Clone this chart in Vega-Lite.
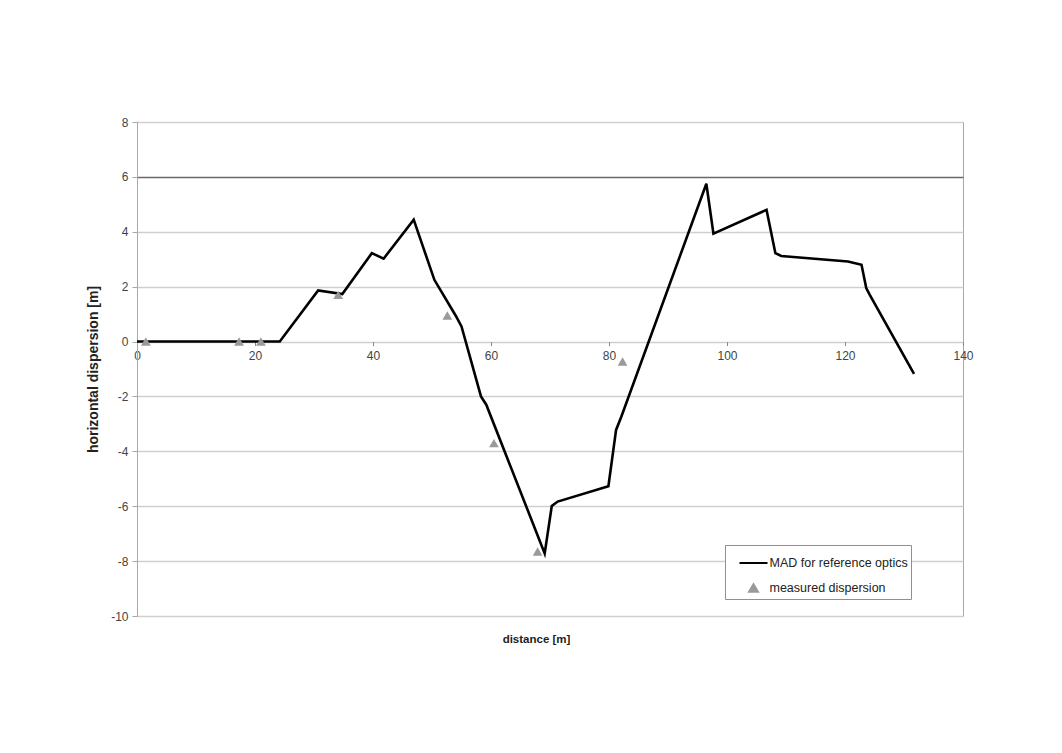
{
  "$schema": "https://vega.github.io/schema/vega-lite/v6.json",
  "width": 826,
  "height": 494,
  "autosize": "none",
  "padding": {"left": 137, "top": 122, "right": 99, "bottom": 137},
  "background": "#ffffff",
  "config": {
    "font": "Liberation Sans",
    "view": {"stroke": "#a8a8a8", "strokeWidth": 1}
  },
  "datasets": {
    "mad": [
      {"distance": 0, "dispersion": 0},
      {"distance": 24.2, "dispersion": 0},
      {"distance": 30.7, "dispersion": 1.86},
      {"distance": 34.8, "dispersion": 1.73},
      {"distance": 39.8, "dispersion": 3.22},
      {"distance": 41.8, "dispersion": 3.02},
      {"distance": 46.9, "dispersion": 4.44},
      {"distance": 50.4, "dispersion": 2.25},
      {"distance": 54.0, "dispersion": 0.95},
      {"distance": 55.0, "dispersion": 0.55},
      {"distance": 58.3, "dispersion": -2.0},
      {"distance": 59.2, "dispersion": -2.3},
      {"distance": 69.1, "dispersion": -7.72},
      {"distance": 70.3, "dispersion": -5.99},
      {"distance": 71.3, "dispersion": -5.83},
      {"distance": 79.9, "dispersion": -5.27},
      {"distance": 81.2, "dispersion": -3.22},
      {"distance": 82.1, "dispersion": -2.73},
      {"distance": 96.5, "dispersion": 5.75},
      {"distance": 97.7, "dispersion": 3.93},
      {"distance": 106.7, "dispersion": 4.8},
      {"distance": 108.2, "dispersion": 3.22},
      {"distance": 109.2, "dispersion": 3.12},
      {"distance": 120.5, "dispersion": 2.92},
      {"distance": 122.8, "dispersion": 2.8},
      {"distance": 123.6, "dispersion": 1.95},
      {"distance": 124.2, "dispersion": 1.7},
      {"distance": 131.7, "dispersion": -1.18}
    ],
    "measured": [
      {"distance": 1.5, "dispersion": 0},
      {"distance": 17.3, "dispersion": 0},
      {"distance": 21.0, "dispersion": 0},
      {"distance": 34.1, "dispersion": 1.7},
      {"distance": 52.6, "dispersion": 0.95},
      {"distance": 60.5, "dispersion": -3.7},
      {"distance": 67.9, "dispersion": -7.65},
      {"distance": 82.3, "dispersion": -0.73}
    ]
  },
  "encoding": {
    "x": {
      "field": "distance",
      "type": "quantitative",
      "scale": {"domain": [0, 140], "nice": false, "zero": false},
      "axis": {
        "title": "distance [m]",
        "titleFontSize": 11.5,
        "titleFontWeight": "bold",
        "titleColor": "#222222",
        "titleX": 399,
        "titleY": 298,
        "titleBaseline": "middle",
        "values": [0, 20, 40, 60, 80, 100, 120, 140],
        "offset": -274.4,
        "grid": false,
        "domain": false,
        "tickColor": "#888888",
        "tickSize": 4,
        "labelFontSize": 12,
        "labelColor": "#444444",
        "labelPadding": 5,
        "labelFlush": false,
        "labelBound": false
      }
    },
    "y": {
      "field": "dispersion",
      "type": "quantitative",
      "scale": {"domain": [-10, 8], "nice": false, "zero": false},
      "axis": {
        "title": "horizontal dispersion [m]",
        "titleFontSize": 14,
        "titleFontWeight": "bold",
        "titleColor": "#222222",
        "titleX": -44,
        "titleBaseline": "middle",
        "values": [-10, -8, -6, -4, -2, 0, 2, 4, 6, 8],
        "labelExpr": "replace(datum.label, '−', '-')",
        "grid": true,
        "gridColor": {"condition": {"test": "datum.value === 6", "value": "#6a6a6a"}, "value": "#cfcfcf"},
        "gridWidth": 1.3,
        "domainColor": "#a8a8a8",
        "tickColor": "#a8a8a8",
        "tickSize": 5,
        "labelFontSize": 12,
        "labelColor": "#444444",
        "labelPadding": 4
      }
    },
    "color": {
      "type": "nominal",
      "scale": {
        "domain": ["MAD for reference optics", "measured dispersion"],
        "range": ["#000000", "#9a9a9a"]
      },
      "legend": {
        "title": null,
        "orient": "none",
        "legendX": 588,
        "legendY": 423,
        "direction": "vertical",
        "strokeColor": "#909090",
        "fillColor": "#ffffff",
        "padding": 3,
        "rowPadding": 3,
        "labelFontSize": 12.5,
        "labelColor": "#222222",
        "labelOffset": 1,
        "symbolSize": 150,
        "symbolOffset": 10.5,
        "encode": {
          "symbols": {
            "update": {
              "shape": {"signal": "datum.value === 'measured dispersion' ? 'triangle-up' : 'M-1,0H1'"},
              "size": {"signal": "datum.value === 'measured dispersion' ? 80 : 784"},
              "fill": {"signal": "datum.value === 'measured dispersion' ? '#9a9a9a' : 'transparent'"},
              "stroke": {"signal": "datum.value === 'measured dispersion' ? 'transparent' : '#000000'"},
              "strokeWidth": {"value": 2},
              "opacity": {"value": 1}
            }
          }
        }
      }
    }
  },
  "layer": [
    {
      "data": {"name": "mad"},
      "mark": {"type": "line", "strokeWidth": 2.6, "strokeJoin": "miter", "clip": true},
      "encoding": {
        "color": {"datum": "MAD for reference optics", "type": "nominal"}
      }
    },
    {
      "data": {"name": "measured"},
      "mark": {"type": "point", "shape": "triangle-up", "filled": true, "size": 95, "opacity": 1},
      "encoding": {
        "color": {"datum": "measured dispersion", "type": "nominal"}
      }
    }
  ]
}
